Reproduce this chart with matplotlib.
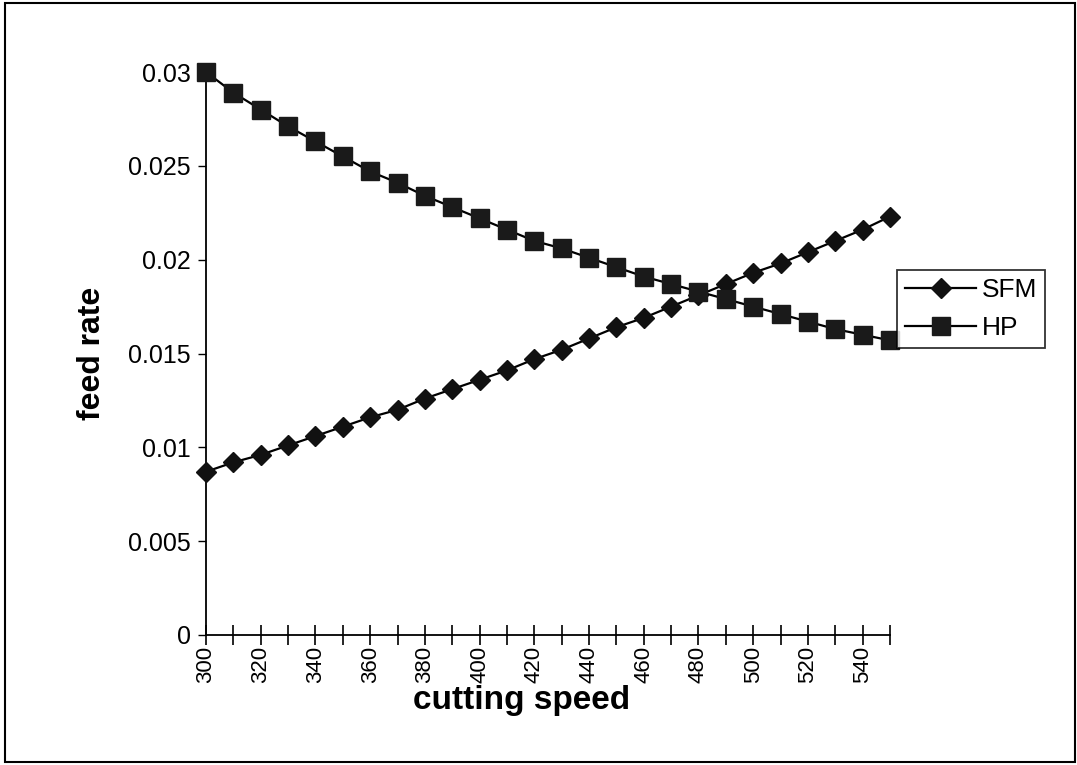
import matplotlib
matplotlib.use("Agg")
import matplotlib.pyplot as plt
from matplotlib.patches import Rectangle

plt.rcParams['font.family'] = ['Liberation Sans', 'DejaVu Sans']

speeds = list(range(300, 551, 10))
sfm = [0.0087, 0.0092, 0.0096, 0.0101, 0.0106, 0.0111, 0.0116, 0.0120, 0.0126,
       0.0131, 0.0136, 0.0141, 0.0147, 0.0152, 0.0158, 0.0164, 0.0169, 0.0175,
       0.0181, 0.0187, 0.0193, 0.0198, 0.0204, 0.0210, 0.0216, 0.0223]
hp = [0.0300, 0.0289, 0.0280, 0.0271, 0.0263, 0.0255, 0.0247, 0.0241, 0.0234,
      0.0228, 0.0222, 0.0216, 0.0210, 0.0206, 0.0201, 0.0196, 0.0191, 0.0187,
      0.0183, 0.0179, 0.0175, 0.0171, 0.0167, 0.0163, 0.0160, 0.0157]
x_labels = [str(v) for v in range(300, 541, 20)]
y_ticks = [0, 0.005, 0.01, 0.015, 0.02, 0.025, 0.03]
y_labels = ['0', '0.005', '0.01', '0.015', '0.02', '0.025', '0.03']

W, H = 1077, 765
fig = plt.figure(figsize=(W / 100, H / 100), dpi=100)
ax = fig.add_axes([206 / W, 1 - 635 / H, (890 - 206) / W, (635 - 72) / H])

ax.plot(speeds, sfm, color='black', lw=1.6, marker='D', ms=10.5,
        mfc='#111111', mec='#111111', label='SFM', clip_on=False, zorder=3)
ax.plot(speeds, hp, color='black', lw=1.6, marker='s', ms=12.5,
        mfc='#1a1a1a', mec='#1a1a1a', label='HP', clip_on=False, zorder=3)

ax.set_xlim(300, 550)
ax.set_ylim(0, 0.03)
ax.set_xticks(speeds)
ax.set_xticklabels([v if v in x_labels else '' for v in map(str, speeds)],
                   rotation=90, fontsize=16)
ax.set_yticks(y_ticks)
ax.set_yticklabels(y_labels, fontsize=18)
ax.tick_params(axis='x', direction='inout', length=14, width=1.2, pad=1)
ax.tick_params(axis='y', direction='out', length=6, width=1.0, pad=5)

for s in ['top', 'right']:
    ax.spines[s].set_visible(False)
for s in ['left', 'bottom']:
    ax.spines[s].set_linewidth(1.3)

ax.set_xlabel('cutting speed', fontsize=24, fontweight='bold')
ax.set_ylabel('feed rate', fontsize=23, fontweight='bold')
ax.xaxis.set_label_coords(0.462, -0.089)
ax.yaxis.set_label_coords(-0.145, 0.5)

fig.legend(loc='upper left', bbox_to_anchor=(897 / W, 1 - 270 / H),
           frameon=True, fancybox=False, edgecolor='black', fontsize=19,
           handlelength=2.7, borderpad=0.3, labelspacing=0.55,
           handletextpad=0.2, borderaxespad=0)
leg = fig.legends[0]
leg.get_frame().set_linewidth(1.3)

fig.patches.append(Rectangle((5 / W, 3 / H), 1070 / W, 759 / H,
                             transform=fig.transFigure, fill=False,
                             edgecolor='black', lw=1.5))

fig.savefig('out.png', dpi=100)
